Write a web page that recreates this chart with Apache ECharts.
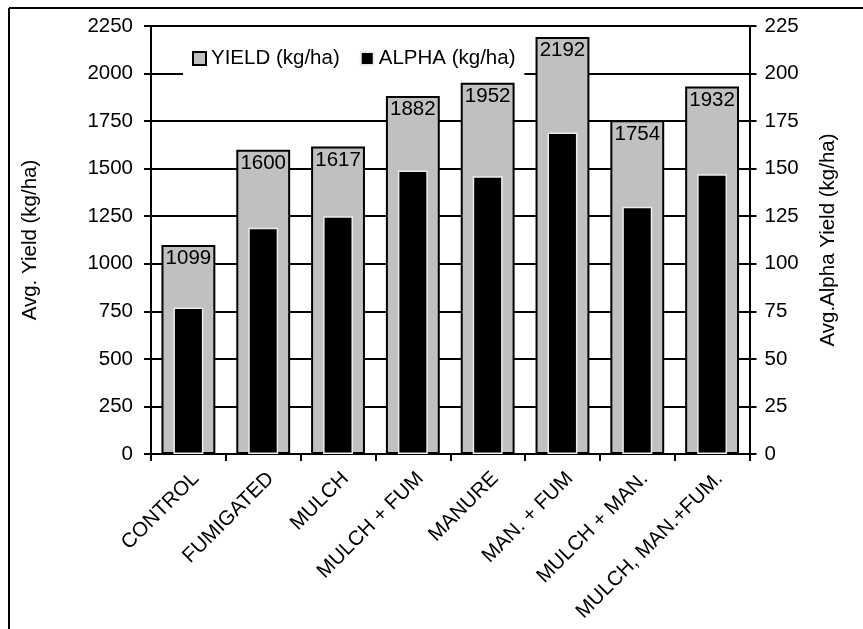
<!DOCTYPE html>
<html>
<head>
<meta charset="utf-8">
<script src="https://cdn.jsdelivr.net/npm/echarts@6/dist/echarts.min.js"></script>
<style>
html,body{margin:0;padding:0;background:#fff;}
#chart{width:863px;height:629px;}
</style>
</head>
<body>
<div id="chart"></div>
<script>
const categories = ['CONTROL','FUMIGATED','MULCH','MULCH + FUM','MANURE','MAN. + FUM','MULCH + MAN.','MULCH, MAN.+FUM.'];
const yieldValues = [1099,1600,1617,1882,1952,2192,1754,1932];
const alphaValues = [77,119,125,149,146,169,130,147];
const seriesNames = ['YIELD (kg/ha)','ALPHA (kg/ha)'];
const leftTicks = {min:0, max:2250, interval:250};
const rightTicks = {min:0, max:225, interval:25};

const FONT = 'Liberation Sans, Arial, sans-serif';
const FS = 20.5;
const plain = v => String(v);
const chart = echarts.init(document.getElementById('chart'), null, {renderer:'canvas'});
chart.setOption({
  animation:false,
  backgroundColor:'#fff',
  textStyle:{fontFamily:FONT},
  graphic:[
    {type:'line', shape:{x1:9,y1:8,x2:863,y2:8}, style:{stroke:'#000', lineWidth:2}},
    {type:'line', shape:{x1:9,y1:8,x2:9,y2:629}, style:{stroke:'#000', lineWidth:2}}
  ],
  legend:{
    data:seriesNames,
    left:183, top:42,
    backgroundColor:'#fff',
    padding:[6,9,6,9],
    itemWidth:13, itemHeight:13, itemGap:20,
    icon:'rect',
    textStyle:{fontSize:FS, color:'#000', fontFamily:FONT},
    z:10
  },
  grid:{left:151, right:113.5, top:26, bottom:175},
  xAxis:[{
    type:'category', data:categories,
    axisLine:{lineStyle:{color:'#000', width:2}},
    axisTick:{show:true, length:7, lineStyle:{color:'#000', width:2}},
    axisLabel:{rotate:45, margin:14, verticalAlign:'top', fontSize:FS, color:'#000', fontFamily:FONT, interval:0},
    splitLine:{show:false}
  },{
    type:'category', data:categories, show:false
  }],
  yAxis:[{
    type:'value', min:leftTicks.min, max:leftTicks.max, interval:leftTicks.interval,
    name:'Avg. Yield (kg/ha)', nameLocation:'middle', nameGap:110,
    nameTextStyle:{fontSize:FS, color:'#000', fontFamily:FONT},
    axisLine:{show:true, lineStyle:{color:'#000', width:2}},
    axisTick:{show:true, length:7, lineStyle:{color:'#000', width:2}},
    axisLabel:{margin:18, fontSize:FS, color:'#000', fontFamily:FONT, formatter:plain},
    splitLine:{show:true, lineStyle:{color:'#000', width:2}}
  },{
    type:'value', min:rightTicks.min, max:rightTicks.max, interval:rightTicks.interval,
    name:'Avg.Alpha Yield (kg/ha)', nameLocation:'middle', nameGap:68,
    nameTextStyle:{fontSize:FS, color:'#000', fontFamily:FONT},
    position:'right',
    axisLine:{show:true, lineStyle:{color:'#000', width:2}},
    axisTick:{show:true, length:7, lineStyle:{color:'#000', width:2}},
    axisLabel:{margin:15, fontSize:FS, color:'#000', fontFamily:FONT, formatter:plain},
    splitLine:{show:false}
  }],
  series:[{
    name:seriesNames[0], type:'bar', data:yieldValues,
    xAxisIndex:0, yAxisIndex:0,
    barWidth:'72%',
    itemStyle:{color:'#c0c0c0', borderColor:'#000', borderWidth:2},
    label:{show:true, position:'insideTop', distance:3, fontSize:FS, color:'#000', fontFamily:FONT},
    z:2
  },{
    name:seriesNames[1], type:'bar', data:alphaValues,
    xAxisIndex:1, yAxisIndex:1,
    barWidth:'40%',
    itemStyle:{color:'#000', borderColor:'#ececec', borderWidth:1.5},
    z:3
  }]
});
</script>
</body>
</html>
